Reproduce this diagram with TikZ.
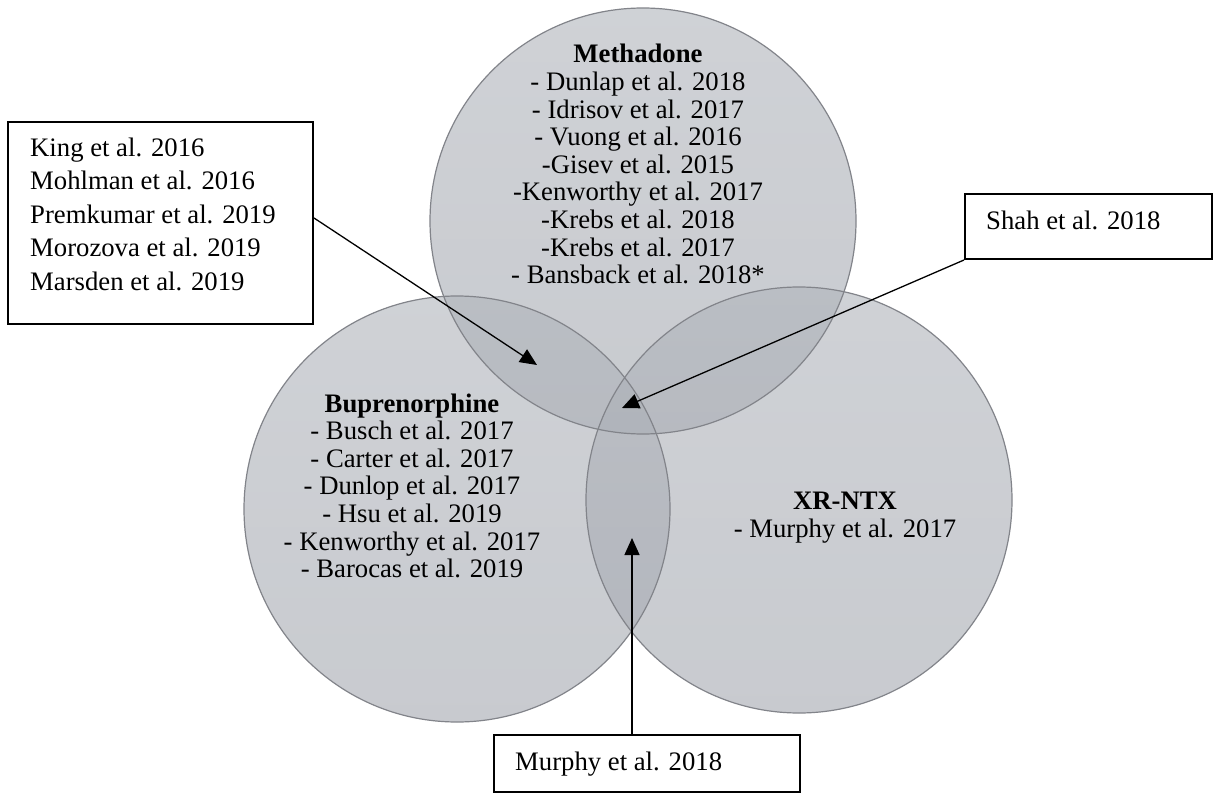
\documentclass[tikz,border=0pt]{standalone}
\usepackage{fontspec}
\setmainfont{Liberation Serif}
\usetikzlibrary{arrows.meta}
\definecolor{vtop}{RGB}{176,180,187}
\definecolor{vbot}{RGB}{164,168,176}
\definecolor{vedge}{RGB}{130,132,138}
\begin{document}
\begin{tikzpicture}[x=1pt,y=-1pt,
  txt/.style={font=\fontsize{26.7}{27.6}\selectfont, inner sep=0pt, anchor=base},
  ltxt/.style={txt, anchor=base west},
  btxt/.style={txt, font=\fontsize{26.7}{27.6}\selectfont\bfseries},
  boxst/.style={draw, line width=2pt, inner sep=0pt, fill=white},
  arr/.style={line width=1.3pt, -{Triangle[length=17pt,width=15pt]}},
  disc/.style={top color=vtop, bottom color=vbot, fill opacity=0.6},
  ring/.style={draw=vedge, line width=1.2pt}
]
\useasboundingbox (0,0) rectangle (1217,794);
\fill[white] (0,0) rectangle (1217,794);

% circle centres
\coordinate (cm) at (643,221);
\coordinate (cb) at (457,509);
\coordinate (cx) at (799,500);

\shade[disc] (cm) circle[radius=213];
\shade[disc] (cb) circle[radius=213];
\shade[disc] (cx) circle[radius=213];
\draw[ring] (cm) circle[radius=213];
\draw[ring] (cb) circle[radius=213];
\draw[ring] (cx) circle[radius=213];

% Methadone
\node[btxt] (m0) at (638,63) {Methadone};
\node[txt] (m1) at (638,90.6) {- Dunlap et al. 2018};
\node[txt] (m2) at (638,118.2) {- Idrisov et al. 2017};
\node[txt] (m3) at (638,145.8) {- Vuong et al. 2016};
\node[txt] (m4) at (638,173.4) {-Gisev et al. 2015};
\node[txt] (m5) at (638,201) {-Kenworthy et al. 2017};
\node[txt] (m6) at (638,228.6) {-Krebs et al. 2018};
\node[txt] (m7) at (638,256.2) {-Krebs et al. 2017};
\node[txt] (m8) at (638,283.8) {- Bansback et al. 2018*};

% Buprenorphine
\node[btxt] (b0) at (412,412) {Buprenorphine};
\node[txt] (b1) at (412,439.6) {- Busch et al. 2017};
\node[txt] (b2) at (412,467.2) {- Carter et al. 2017};
\node[txt] (b3) at (412,494.8) {- Dunlop et al. 2017};
\node[txt] (b4) at (412,522.4) {- Hsu et al. 2019};
\node[txt] (b5) at (412,550) {- Kenworthy et al. 2017};
\node[txt] (b6) at (412,577.6) {- Barocas et al. 2019};

% XR-NTX
\node[btxt] (x0) at (845,509) {XR-NTX};
\node[txt] (x1) at (845,537) {- Murphy et al. 2017};

% boxes
\node[boxst, minimum width=305pt, minimum height=202pt] (kingbox) at (160.5,223) {};
\node[ltxt] (k1) at (30,156.7) {King et al. 2016};
\node[ltxt] (k2) at (30,190) {Mohlman et al. 2016};
\node[ltxt] (k3) at (30,223.3) {Premkumar et al. 2019};
\node[ltxt] (k4) at (30,256.7) {Morozova et al. 2019};
\node[ltxt] (k5) at (30,290) {Marsden et al. 2019};

\node[boxst, minimum width=247pt, minimum height=65pt] (shahbox) at (1088.5,226.5) {};
\node[ltxt] (s1) at (986,230) {Shah et al. 2018};

\node[boxst, minimum width=306pt, minimum height=57pt] (murphybox) at (647,763.5) {};
\node[ltxt] (p1) at (515,770) {Murphy et al. 2018};

% arrow tips
\coordinate (t1) at (537,365);
\coordinate (t2) at (622,408);
\coordinate (t3) at (632,538);

\draw[arr] ([yshift=5pt]kingbox.east) -- (t1);
\draw[arr] (shahbox.south west) -- (t2);
\draw[arr] (t3 |- murphybox.north) -- (t3);
\end{tikzpicture}
\end{document}
